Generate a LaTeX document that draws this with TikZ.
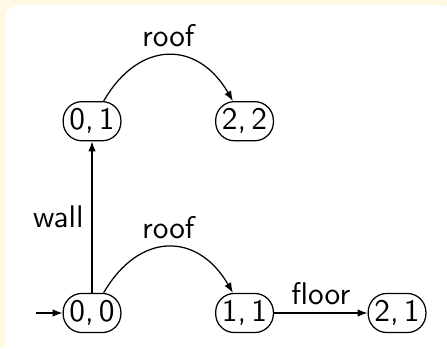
\documentclass[tikz,border=0pt]{standalone}
\usepackage{tikz}
\usetikzlibrary{arrows.meta,positioning}
\definecolor{cream}{RGB}{255,248,228}

\begin{document}
\begin{tikzpicture}[node distance=1.7cm and 1.05cm,
  every node/.style={font=\sffamily},
  st/.style={draw,rounded corners=6pt,inner sep=2pt,minimum height=12.5pt},
  lbl/.style={inner sep=2.5pt},
  >={Latex[length=3.2pt,width=2.4pt]}]
  % frame
  \useasboundingbox (-29.4pt,-11.2pt) rectangle (113.4pt,100pt);
  \fill[cream] (-29.4pt,-11.2pt) rectangle (113.4pt,100pt);
  \fill[white,rounded corners=4.8pt] (-27.8pt,-14pt) rectangle (116pt,98.4pt);
  % states
  \node[st] (q00) {0,\,0};
  \node[st,above=of q00] (q01) {0,\,1};
  \node[st,right=of q00] (q11) {1,\,1};
  \node[st,right=of q11] (q21) {2,\,1};
  \node[st,right=of q01] (q22) {2,\,2};
  \coordinate[left=0.3cm of q00] (init);
  % transitions
  \draw[->] (init) -- (q00);
  \draw[->] (q00) -- node[lbl,left] {wall} (q01);
  \draw[->] (q11) -- node[lbl,above] {floor} (q21);
  \foreach \a/\b in {q00/q11,q01/q22}
    \draw[->] (\a) to[bend left=60,looseness=1.4] node[lbl,above] {roof} (\b);
\end{tikzpicture}
\end{document}
